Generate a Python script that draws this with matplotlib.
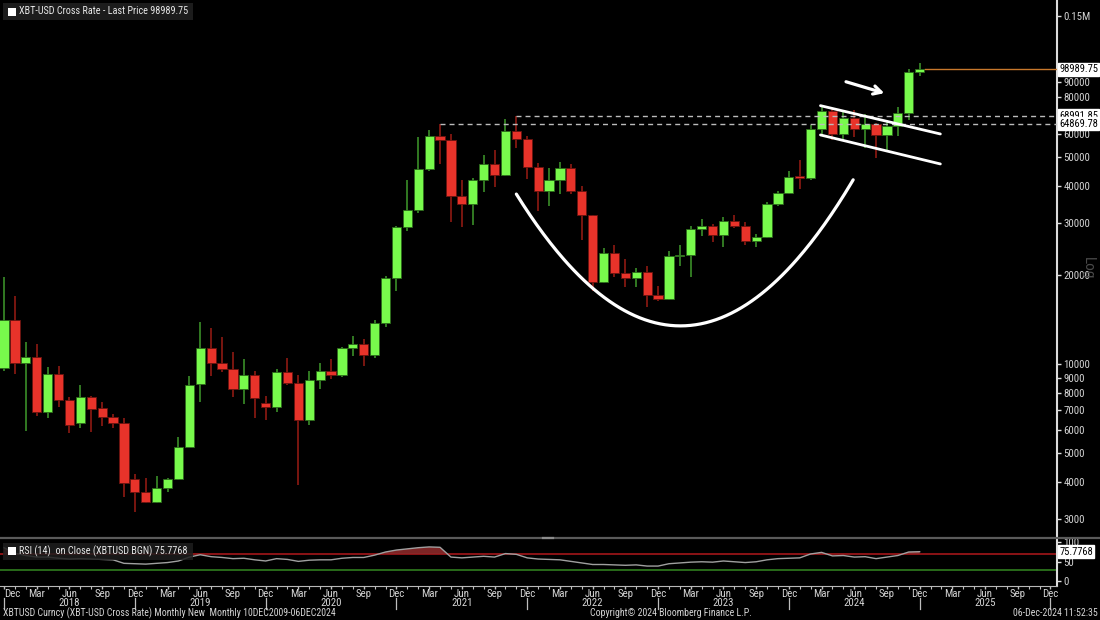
import numpy as np
import matplotlib.pyplot as plt
from matplotlib import font_manager
from matplotlib.patches import Rectangle
from matplotlib.lines import Line2D
from matplotlib.ticker import NullLocator

# pick a narrow face if one is installed, else shrink Liberation Sans
fonts = font_manager.fontManager.ttflist
names = {f.name for f in fonts}
FS, FT = 7.0, 6.6      # numbers, text
if 'Liberation Sans Narrow' in names:
    plt.rcParams['font.family'] = ['Liberation Sans Narrow', 'DejaVu Sans']
    FS, FT = 8.0, 7.6
elif 'Roboto Condensed' in names:
    plt.rcParams['font.family'] = ['Roboto Condensed', 'DejaVu Sans']
    FS, FT = 7.8, 7.1
elif any(f.name == 'DejaVu Sans' and 'condensed' in str(f.stretch) for f in fonts):
    plt.rcParams['font.family'] = ['DejaVu Sans']
    plt.rcParams['font.stretch'] = 'condensed'
    FS, FT = 6.9, 6.5
else:
    plt.rcParams['font.family'] = ['Liberation Sans', 'DejaVu Sans']
    FS, FT = 6.9, 6.5

# monthly candles, Dec 2017 .. Dec 2024 (index 0 = Dec 2017)
opens = [9700, 14100, 10100, 10550, 6900, 9280, 7550, 6300, 7740, 7100, 6600, 6320,
         4100, 3690, 3430, 3800, 4080, 5260, 8550, 11300, 10050, 9620, 8250, 9200,
         7400, 7170, 9370, 8600, 6450, 8850, 9500, 9150, 11350, 11700, 10750, 13800,
         19500, 29000, 33100, 45500, 59000, 57000, 37000, 34800, 41800, 47200, 43600, 61300,
         57500, 46300, 38500, 42000, 46000, 38500, 31800, 18900, 23800, 20300, 19450, 20500,
         17150, 16550, 23100, 23300, 28500, 29300, 27200, 30450, 29250, 25950, 26950, 34600,
         37800, 42800, 42600, 62000, 71500, 60000, 67800, 62400, 64800, 59300, 63500, 70300,
         97000]
highs = [19700, 17000, 11850, 11700, 9800, 9850, 7750, 8480, 7800, 7450, 6780, 6560,
         4250, 4110, 4180, 4120, 5680, 9100, 13900, 13200, 12350, 11000, 10400, 9500,
         7790, 9600, 10500, 9200, 9500, 10050, 10400, 11450, 12450, 12100, 14100, 19900,
         29300, 41900, 58300, 61800, 64869.78, 59800, 41900, 42400, 50700, 53000, 67000, 68991.85,
         59000, 47900, 45800, 48200, 47400, 40000, 31900, 24700, 25200, 22700, 21100, 21500,
         18400, 24000, 25200, 29200, 31000, 29800, 31400, 31800, 30100, 27500, 35200, 38400,
         45000, 49000, 64000, 74500, 72800, 71900, 72000, 70000, 65100, 66500, 73600, 99600,
         104000]
lows = [9500, 9250, 5950, 6650, 6550, 7150, 5830, 6100, 5900, 6150, 6100, 3540,
        3150, 3380, 3380, 3690, 4060, 5240, 7460, 9100, 9400, 7750, 7330, 6550,
        6450, 6900, 8500, 3900, 6200, 8200, 8900, 9050, 10650, 9870, 10450, 13300,
        17600, 28200, 32300, 45000, 47500, 30200, 29000, 29400, 38000, 39700, 43300, 53500,
        42300, 33000, 34300, 37500, 37600, 26200, 17600, 18800, 19600, 18200, 18200, 15600,
        16300, 16500, 21400, 19600, 27000, 25800, 24800, 28900, 25200, 24900, 26550, 34100,
        37600, 38900, 41900, 59800, 57000, 56500, 58600, 53500, 49500, 52600, 58900, 66800,
        94000]
closes = [14100, 10100, 10550, 6900, 9280, 7550, 6200, 7740, 7030, 6600, 6320, 3950,
          3690, 3430, 3800, 4080, 5260, 8490, 11300, 10050, 9620, 8250, 9200, 7700,
          7170, 9370, 8600, 6450, 8850, 9500, 9150, 11350, 11700, 10750, 13800, 19500,
          29000, 33100, 45500, 59000, 57000, 37000, 34800, 41800, 47200, 43600, 61300, 57500,
          46300, 38500, 42000, 46000, 38500, 31800, 18900, 23800, 20300, 19450, 20500, 17150,
          16550, 23100, 23300, 28500, 29300, 27200, 30450, 29250, 25950, 26950, 34600, 37800,
          42700, 42600, 62000, 71500, 60000, 67800, 62400, 64800, 59300, 63500, 70300, 97000,
          98989.75]

rsi = [86, 72, 66, 62, 62, 59, 57, 58, 57, 56, 55, 46,
       45, 44, 46, 48, 52, 62, 68, 63, 61, 58, 59, 55,
       52, 58, 56, 51, 54, 55, 55, 59, 61, 61, 67, 75,
       80, 83, 86, 88, 87, 62, 60, 62, 64, 62, 71, 69,
       60, 57, 56, 55, 51, 47, 43, 43, 42, 41, 42, 39,
       39, 45, 47, 49, 50, 49, 52, 50, 48, 50, 55, 58,
       59, 60, 70, 74, 65, 66, 62, 63, 58, 62, 66, 75,
       75.7768]

last_price = 98989.75
last_rsi = 75.7768
level_prices = [68991.85, 64869.78]
level_start = [47, 40]          # month index where the dashed line begins

month_labels = ['Dec', 'Mar', 'Jun', 'Sep'] * 8 + ['Dec']
year_labels = ['2018', '2019', '2020', '2021', '2022', '2023', '2024', '2025']

y_ticks = [3000, 4000, 5000, 6000, 7000, 8000, 9000, 10000,
           20000, 30000, 40000, 50000, 60000, 80000, 90000, 150000]
y_labels = [str(v) for v in y_ticks[:-1]] + ['0.15M']

# drawn annotations (month index, price)
cup_m = [47.0, 62.0, 77.9]
cup_p = [37500, 13450, 41900]
flag_m = [74.9, 85.9]
flag_upper = [74600, 59850]
flag_lower = [59400, 47400]
arrow_from = (77.0, 90400)
arrow_to = (81.0, 81700)

W, H = 1100, 620
def fx(px):
    return px / W
def fy(py):
    return 1 - py / H

GREEN, RED = '#78fa4c', '#e8332a'
GREEN_W, RED_W = '#3f9a2c', '#9a1c14'
TXT = '#d4d4d4'

fig = plt.figure(figsize=(11, 6.2), dpi=100, facecolor='black')
ax = fig.add_axes([0, fy(537), fx(1057), 537 / H], facecolor='black')
rax = fig.add_axes([0, fy(586), fx(1057), 46 / H], facecolor='black', sharex=ax)

x = np.arange(len(opens))
o, h, l, c = map(np.array, (opens, highs, lows, closes))
up = c >= o
xmin, xmax = -0.37, 96.6

ax.set_yscale('log')
# wicks
ax.vlines(x[up], l[up], h[up], color=GREEN_W, lw=1.1, zorder=2)
ax.vlines(x[~up], l[~up], h[~up], color=RED_W, lw=1.1, zorder=2)
# bodies
lo = np.minimum(o, c)
hi = np.maximum(o, c)
hi = np.maximum(hi, lo * 1.012)
ax.bar(x[up], hi[up] - lo[up], bottom=lo[up], width=0.84, color=GREEN,
       edgecolor='#2d6a1c', linewidth=0.6, zorder=3)
ax.bar(x[~up], hi[~up] - lo[~up], bottom=lo[~up], width=0.84, color=RED,
       edgecolor='#6a1410', linewidth=0.6, zorder=3)

# reference levels
for lvl, start in zip(level_prices, level_start):
    ax.plot([start, xmax], [lvl, lvl], color='#bcbcbc', lw=1,
            ls=(0, (3.6, 2.9)), zorder=4)
ax.plot([x[-1] + 0.45, xmax], [last_price, last_price], color='#c8782c', lw=1, zorder=4)

# cup, flag and arrow annotations
coef = np.polyfit(cup_m, np.log10(cup_p), 2)
mm = np.linspace(cup_m[0], cup_m[-1], 200)
ax.plot(mm, 10 ** np.polyval(coef, mm), color='white', lw=2.3,
        solid_capstyle='round', zorder=5)
ax.plot(flag_m, flag_upper, color='white', lw=2.0, solid_capstyle='round', zorder=5)
ax.plot(flag_m, flag_lower, color='white', lw=2.0, solid_capstyle='round', zorder=5)
ax.annotate('', xy=arrow_to, xytext=arrow_from,
            arrowprops=dict(arrowstyle='->,head_length=0.55,head_width=0.3',
                            color='white', lw=2.3), zorder=5)

ax.set_xlim(xmin, xmax)
ax.set_ylim(2603, 169700)
ax.yaxis.tick_right()
ax.set_yticks(y_ticks, y_labels)
ax.yaxis.set_minor_locator(NullLocator())
ax.tick_params(axis='y', direction='out', length=3, width=1, pad=1.5,
               color='#e0e0e0', labelcolor=TXT, labelsize=FS)
ax.tick_params(axis='x', which='both', bottom=False, labelbottom=False)
for s in ['top', 'left', 'bottom']:
    ax.spines[s].set_visible(False)
ax.spines['right'].set_color('#dcdcdc')
ax.spines['right'].set_linewidth(1.5)

box = dict(boxstyle='square,pad=0.12', facecolor='white', edgecolor='white')
for v in [last_price] + level_prices:
    ax.text(1.002, v, '%.2f' % v, transform=ax.get_yaxis_transform(), ha='left',
            va='center', fontsize=7.6 if FS > 7.5 else FS, color='black', bbox=box,
            zorder=6, clip_on=False)

# RSI panel
rx = np.arange(len(rsi))
r = np.array(rsi)
rax.axhline(70, color='#a3161a', lw=1.2, zorder=2)
rax.axhline(30, color='#2f7d1f', lw=1.2, zorder=2)
rax.fill_between(rx, 70, r, where=r > 70, interpolate=True, color='#8a2a2a',
                 alpha=0.9, lw=0, zorder=2)
rax.plot(rx, r, color='#a0a0a0', lw=1, zorder=3)
rax.set_ylim(-12, 105.7)
rax.yaxis.tick_right()
rax.set_yticks([0, 50, 100])
rax.tick_params(axis='y', direction='out', length=3, width=1, pad=1.5,
                color='#e0e0e0', labelcolor=TXT, labelsize=FS)
rax.text(1.002, last_rsi, '%.4f' % last_rsi, transform=rax.get_yaxis_transform(),
         ha='left', va='center', fontsize=7.6 if FS > 7.5 else FS, color='black',
         bbox=box, clip_on=False)
for s in ['top', 'left']:
    rax.spines[s].set_visible(False)
rax.spines['right'].set_color('#dcdcdc')
rax.spines['right'].set_linewidth(1.5)
rax.spines['bottom'].set_color('#b8b8b8')

month_pos = np.arange(0, 97, 3)
rax.set_xticks(month_pos, month_labels)
rax.set_xticks(np.arange(0, 97, 1), minor=True)
rax.tick_params(axis='x', which='major', direction='out', length=2.5, width=1,
                color='#c0c0c0', labelcolor=TXT, labelsize=FS, pad=0)
rax.tick_params(axis='x', which='minor', direction='out', length=1.8, width=0.8,
                color='#c0c0c0')
rax.get_xticklabels()[0].set_horizontalalignment('left')
rax.set_xlim(xmin, xmax)

tr = rax.get_xaxis_transform()
for i, yl in enumerate(year_labels):
    rax.text(6 + 12 * i, -0.37, yl, transform=tr, ha='center', va='center',
             fontsize=FS, color=TXT, clip_on=False)
for m in range(0, 97, 12):
    rax.plot([m, m], [-0.25, -0.49], transform=tr, color='#bdbdbd', lw=0.9,
             clip_on=False)

# separator between panels
fig.add_artist(Line2D([0, 1], [fy(538), fy(538)], color='#5a5a5a', lw=1.6))
fig.add_artist(Line2D([fx(543), fx(553)], [fy(538), fy(538)], color='#8c8c8c', lw=1.6))

# legend boxes
fig.add_artist(Rectangle((fx(3), fy(20)), 190 / W, 17 / H, facecolor='#1c1c1c',
                         edgecolor='none'))
fig.add_artist(Rectangle((fx(8), fy(16)), 8 / W, 8 / H, facecolor='white',
                         edgecolor='none'))
fig.text(fx(19), fy(11.5), 'XBT-USD Cross Rate - Last Price 98989.75', color='#e8e8e8',
         fontsize=FT + 0.2, va='center', ha='left')

fig.add_artist(Rectangle((fx(3), fy(560)), 190 / W, 17 / H, facecolor='#1e1e1e',
                         edgecolor='none', alpha=0.85))
fig.add_artist(Rectangle((fx(8), fy(555)), 8 / W, 8 / H, facecolor='white',
                         edgecolor='none'))
fig.text(fx(19), fy(551.5), 'RSI (14)  on Close (XBTUSD BGN) 75.7768', color='#e8e8e8',
         fontsize=FT + 0.2, va='center', ha='left')

fig.text(fx(1088), fy(268), 'Log', color='#4a4a4a', fontsize=11, rotation=270,
         ha='center', va='center')

# footer
fig.text(fx(3), fy(613), 'XBTUSD Curncy (XBT-USD Cross Rate) Monthly New  Monthly 10DEC2009-06DEC2024',
         color=TXT, fontsize=FT, va='center', ha='left')
fig.text(fx(590), fy(613), 'Copyright\u00a9 2024 Bloomberg Finance L.P.', color=TXT,
         fontsize=FT, va='center', ha='left')
fig.text(fx(1098), fy(613), '06-Dec-2024 11:52:35', color=TXT, fontsize=FT,
         va='center', ha='right')

fig.savefig('out.png', dpi=100, facecolor='black')
